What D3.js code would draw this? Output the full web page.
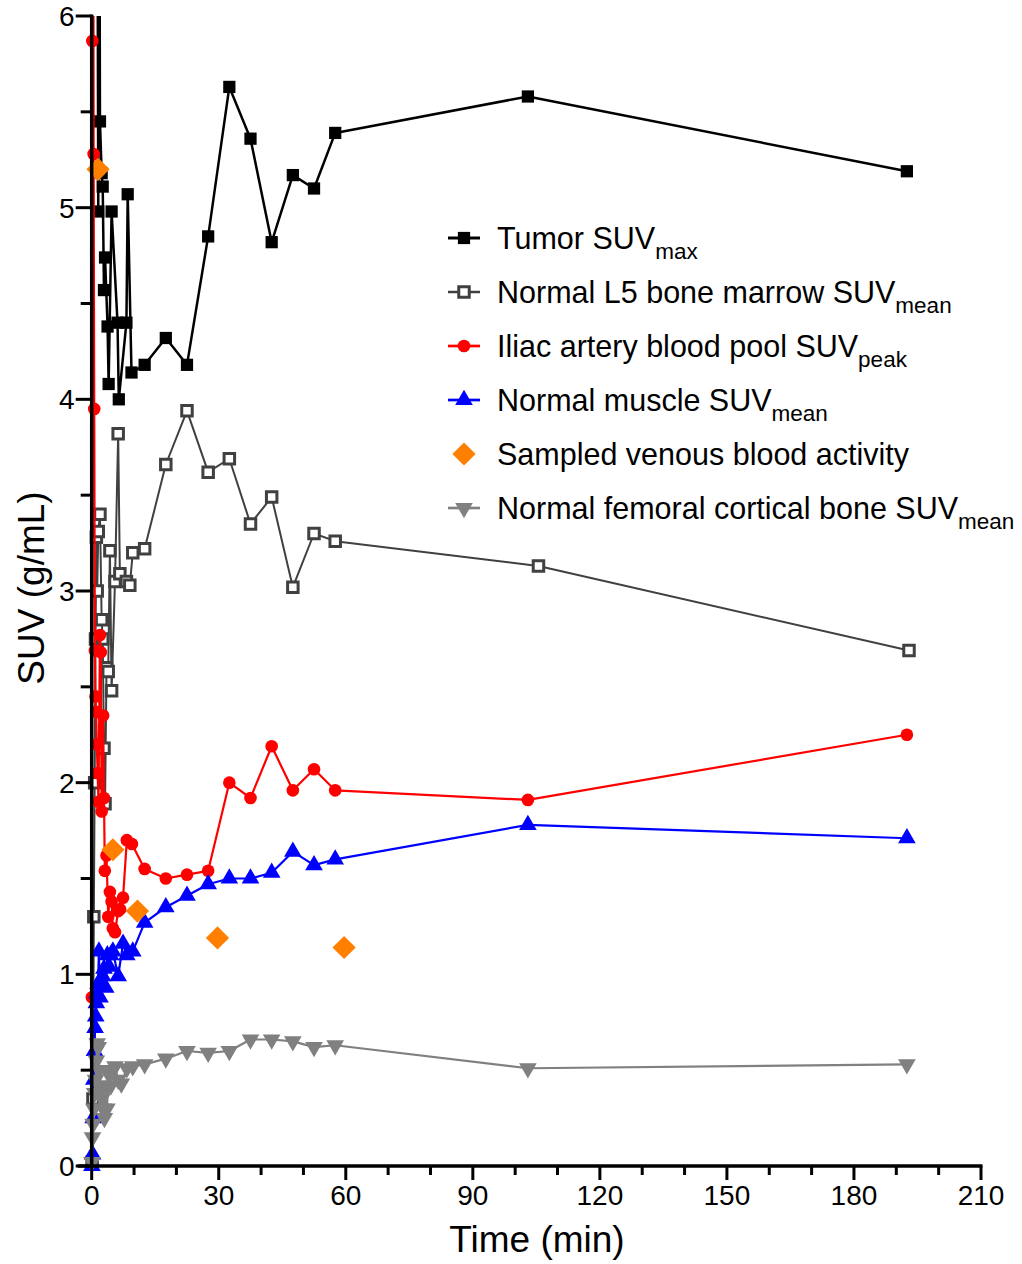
<!DOCTYPE html>
<html>
<head>
<meta charset="utf-8">
<script src="https://cdn.jsdelivr.net/npm/d3@7"></script>
<style>
  body { margin: 0; background: #fff; }
  text { font-family: "Liberation Sans", Arial, Helvetica, sans-serif; fill: #000; }
</style>
</head>
<body>
<div id="chart"></div>
<script>
// values (time in min, SUV in g/mL)
var tumorTime = [0.3,0.5,0.7,0.9,1.1,1.3,1.55,1.75,1.95,2.35,2.6,2.9,3.15,3.75,4.0,4.7,6.1,6.4,8.2,8.5,9.4,12.5,17.5,22.5,27.5,32.5,37.5,42.5,47.5,52.5,57.5,103,192.5];
var tumorSUV = [8,11,12,10,8.5,7.2,4.98,7.5,5.45,5.18,5.11,4.57,4.74,4.38,4.08,4.98,4.40,4.00,4.40,5.07,4.14,4.18,4.32,4.18,4.85,5.63,5.36,4.82,5.17,5.10,5.39,5.58,5.19];

var marrowTime = [0.1,0.3,0.5,0.7,0.9,1.1,1.3,1.55,1.95,2.35,2.6,2.9,3.15,3.5,3.9,4.3,4.7,5.5,6.25,6.65,8.2,9.0,9.7,12.5,17.5,22.5,27.5,32.5,37.5,42.5,47.5,52.5,57.5,105.5,193];
var marrowSUV = [0.02,0.35,1.3,2.0,2.75,3.28,3.0,3.31,3.40,2.85,2.75,2.18,1.89,2.6,2.58,3.21,2.48,3.05,3.82,3.09,3.05,3.03,3.20,3.22,3.66,3.94,3.62,3.69,3.35,3.49,3.02,3.30,3.26,3.13,2.69];

var iliacTime = [0.05,0.15,0.25,0.35,0.45,0.6,0.75,0.9,1.05,1.2,1.4,1.6,1.95,2.15,2.35,2.7,2.9,3.1,3.5,3.9,4.3,4.7,5.0,5.5,6.25,6.7,7.4,8.3,9.5,12.5,17.5,22.5,27.5,32.5,37.5,42.5,47.5,52.5,57.5,103,192.5];
var iliacSUV = [0.88,5.87,8.6,7.4,5.28,3.95,2.69,2.45,2.37,2.2,2.05,1.9,2.77,2.68,1.85,2.35,1.92,1.54,1.62,1.30,1.43,1.38,1.24,1.22,1.33,1.34,1.40,1.70,1.68,1.55,1.50,1.52,1.54,2.00,1.92,2.19,1.96,2.07,1.96,1.91,2.25];

var muscleTime = [0.05,0.2,0.35,0.5,0.65,0.8,0.95,1.1,1.3,1.5,1.7,1.95,2.3,2.6,2.9,3.3,3.7,4.1,4.5,5.0,6.25,7.4,8.3,9.7,12.5,17.5,22.5,27.5,32.5,37.5,42.5,47.5,52.5,57.5,103,192.5];
var muscleSUV = [0.0,0.06,0.25,0.45,0.6,0.72,0.78,0.85,0.9,0.95,1.12,0.88,0.95,0.99,1.03,0.93,1.10,1.04,1.10,1.12,0.99,1.16,1.10,1.12,1.27,1.35,1.41,1.47,1.50,1.50,1.53,1.64,1.57,1.60,1.78,1.71];

var venousTime = [1.5,5.0,10.8,29.7,59.6];
var venousSUV = [5.20,1.65,1.33,1.19,1.14];

var boneTime = [0.05,0.2,0.35,0.5,0.7,0.9,1.1,1.3,1.55,1.8,2.1,2.4,2.7,3.0,3.3,3.6,4.0,4.5,5.0,5.5,6.25,7.0,8.3,9.7,12.5,17.5,22.5,27.5,32.5,37.5,42.5,47.5,52.5,57.5,103,192.5];
var boneSUV = [0.02,0.15,0.22,0.3,0.38,0.45,0.55,0.64,0.62,0.5,0.42,0.35,0.3,0.25,0.4,0.3,0.48,0.42,0.5,0.52,0.45,0.43,0.51,0.52,0.53,0.56,0.60,0.59,0.60,0.66,0.66,0.65,0.62,0.63,0.51,0.53];

var seriesNames = ["Tumor SUV", "Normal L5 bone marrow SUV", "Iliac artery blood pool SUV",
                   "Normal muscle SUV", "Sampled venous blood activity", "Normal femoral cortical bone SUV"];
var seriesSubs = ["max", "mean", "peak", "mean", "", "mean"];
var xTicks = [0, 30, 60, 90, 120, 150, 180, 210];
var yTicks = [0, 1, 2, 3, 4, 5, 6];

var W = 1022, H = 1264;

var x = d3.scaleLinear().domain([0, 210]).range([91.7, 981]);
var y = d3.scaleLinear().domain([0, 6]).range([1166, 16]);

function zip(t, v) { return t.map(function(d, i) { return {t: d, v: v[i]}; }); }

var series = [
  {name: seriesNames[0], sub: seriesSubs[0], data: zip(tumorTime, tumorSUV), color: "#000", line: true, lw: 2.5,
   sym: d3.symbolSquare, size: 150, fill: "#000", stroke: "none", sw: 0, rot: 0},
  {name: seriesNames[1], sub: seriesSubs[1], data: zip(marrowTime, marrowSUV), color: "#404040", line: true, lw: 2,
   sym: d3.symbolSquare, size: 110, fill: "#fff", stroke: "#404040", sw: 3, rot: 0},
  {name: seriesNames[2], sub: seriesSubs[2], data: zip(iliacTime, iliacSUV), color: "#ff0000", line: true, lw: 2.2,
   sym: d3.symbolCircle, size: 125, fill: "#ff0000", stroke: "none", sw: 0, rot: 0},
  {name: seriesNames[3], sub: seriesSubs[3], data: zip(muscleTime, muscleSUV), color: "#0000ff", line: true, lw: 2.2,
   sym: d3.symbolTriangle, size: 135, fill: "#0000ff", stroke: "none", sw: 0, rot: 0},
  {name: seriesNames[4], sub: seriesSubs[4], data: zip(venousTime, venousSUV), color: "#ff8000", line: false, lw: 0,
   sym: d3.symbolSquare, size: 270, fill: "#ff8000", stroke: "none", sw: 0, rot: 45},
  {name: seriesNames[5], sub: seriesSubs[5], data: zip(boneTime, boneSUV), color: "#808080", line: true, lw: 2.2,
   sym: d3.symbolTriangle, size: 135, fill: "#808080", stroke: "none", sw: 0, rot: 180}
];

var svg = d3.select("#chart").append("svg")
  .attr("width", W)
  .attr("height", H);

// clip at the top of the y range, like the original
svg.append("clipPath").attr("id", "clip")
  .append("rect").attr("x", 0).attr("y", y(6)).attr("width", W).attr("height", H - y(6));

var plot = svg.append("g").attr("clip-path", "url(#clip)");

var line = d3.line().x(function(d) { return x(d.t); }).y(function(d) { return y(d.v); });

series.forEach(function(s) {
  var g = plot.append("g");
  if (s.line) {
    g.append("path")
      .datum(s.data)
      .attr("d", line)
      .attr("fill", "none")
      .attr("stroke", s.color)
      .attr("stroke-width", s.lw)
      .attr("stroke-linejoin", "round");
  }
  g.selectAll(".pt")
    .data(s.data)
    .enter().append("path")
    .attr("class", "pt")
    .attr("d", d3.symbol().type(s.sym).size(s.size))
    .attr("transform", function(d) { return "translate(" + x(d.t) + "," + y(d.v) + ") rotate(" + s.rot + ")"; })
    .attr("fill", s.fill)
    .attr("stroke", s.stroke)
    .attr("stroke-width", s.sw);
});

// axes
var xAxis = svg.append("g").attr("transform", "translate(0," + y(0) + ")");
xAxis.append("line").attr("x1", x(0) - 14).attr("x2", x(210) + 1.5).attr("stroke", "#000").attr("stroke-width", 3.5);
xAxis.selectAll(".minor").data(d3.range(0, 211, 10)).enter().append("line")
  .attr("x1", function(d) { return x(d); }).attr("x2", function(d) { return x(d); })
  .attr("y1", 0).attr("y2", function(d) { return d % 30 === 0 ? 14 : 9; })
  .attr("stroke", "#000").attr("stroke-width", 3);
xAxis.selectAll(".lab").data(xTicks).enter().append("text")
  .attr("x", function(d) { return x(d); }).attr("y", 39)
  .attr("text-anchor", "middle").attr("font-size", 28)
  .text(function(d) { return d; });

var yAxis = svg.append("g").attr("transform", "translate(" + x(0) + ",0)");
yAxis.append("line").attr("y1", y(6) - 1.5).attr("y2", y(0) + 1.5).attr("stroke", "#000").attr("stroke-width", 3.5);
yAxis.selectAll(".minor").data(d3.range(0, 6.01, 0.5)).enter().append("line")
  .attr("y1", function(d) { return y(d); }).attr("y2", function(d) { return y(d); })
  .attr("x1", 0).attr("x2", function(d) { return d % 1 === 0 ? -16 : -11; })
  .attr("stroke", "#000").attr("stroke-width", 3);
yAxis.selectAll(".lab").data(yTicks).enter().append("text")
  .attr("x", -17).attr("y", function(d) { return y(d) + 10; })
  .attr("text-anchor", "end").attr("font-size", 28)
  .text(function(d) { return d; });

svg.append("text")
  .attr("x", 537).attr("y", 1252)
  .attr("text-anchor", "middle").attr("font-size", 37)
  .text("Time (min)");

svg.append("text")
  .attr("transform", "translate(44,588) rotate(-90)")
  .attr("text-anchor", "middle").attr("font-size", 37)
  .text("SUV (g/mL)");

// legend
var legend = svg.append("g");
series.forEach(function(s, i) {
  var cy = 238 + i * 54;
  var row = legend.append("g");
  if (s.line) {
    row.append("line").attr("x1", 448).attr("x2", 480).attr("y1", cy).attr("y2", cy)
      .attr("stroke", s.color).attr("stroke-width", s.lw + 0.5);
  }
  row.append("path")
    .attr("d", d3.symbol().type(s.sym).size(s.size))
    .attr("transform", "translate(464," + cy + ") rotate(" + s.rot + ")")
    .attr("fill", s.fill).attr("stroke", s.stroke).attr("stroke-width", s.sw);
  var t = row.append("text").attr("x", 497).attr("y", cy + 11).attr("font-size", 30.5);
  t.append("tspan").text(s.name);
  if (s.sub) {
    t.append("tspan").attr("dy", 10).attr("font-size", 22.5).text(s.sub);
  }
});
</script>
</body>
</html>
